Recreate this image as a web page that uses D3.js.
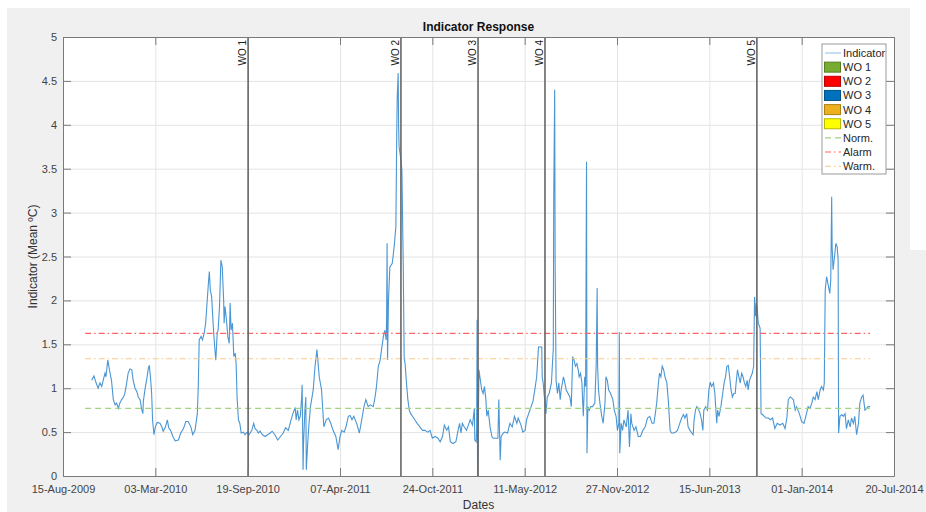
<!DOCTYPE html>
<meta charset="utf-8">
<title>Indicator Response</title>
<script src="https://d3js.org/d3.v7.min.js"></script>
<style>
  body { margin: 0; background: #fff; font-family: Arial, "Liberation Sans", Helvetica, sans-serif; }
  .grid line { stroke: #e4e4e4; }
  .grid path { display: none; }
  .axis path, .axis line { stroke: #7a7a7a; }
  .axis text { fill: #444; font-size: 11px; font-family: Arial, "Liberation Sans", sans-serif; }
</style>
<div id="chart"></div>
<script>
// x tick labels (every 200 days), also the date range of the axis
var xTickLabels = ["15-Aug-2009", "03-Mar-2010", "19-Sep-2010", "07-Apr-2011", "24-Oct-2011",
                   "11-May-2012", "27-Nov-2012", "15-Jun-2013", "01-Jan-2014", "20-Jul-2014"];
var yTicks = [0, 0.5, 1, 1.5, 2, 2.5, 3, 3.5, 4, 4.5, 5];

// indicator series: days after 15-Aug-2009 and mean value (ºC)
var days = [62,67,71,76,80,84,87,91,93,97,102,105,109,113,116,120,123,127,131,134,138,141,145,149,152,156,160,163,167,170,173,174,178,181,185,187,190,192,194,197,200,204,210,214,217,222,226,229,233,238,243,250,255,261,266,271,277,281,286,291,293,295,
  299,302,306,309,312,315,317,319,322,326,329,331,334,336,339,342,345,348,349,351,354,357,360,362,364,367,370,373,375,377,380,383,386,391,394,399,403,409,413,416,420,423,427,432,438,443,449,453,459,465,471,477,482,488,494,498,503,505,508,511,514,517,518,520,521,524,526,527,530,533,536,
  542,546,550,552,555,560,565,570,575,580,585,591,596,600,604,609,613,618,622,626,630,636,642,647,652,656,661,666,672,676,679,683,687,690,694,697,700,701,702,703,705,708,713,715,718,721,723,724,726,727,728,731,734,737,739,741,744,747,750,753,757,762,767,773,779,784,790,795,800,806,812,817,822,826,831,835,839,845,851,855,859,862,865,869,874,878,882,887,891,892,895,896,897,898,
  901,903,907,910,913,916,918,921,925,929,932,937,942,944,947,949,954,957,963,968,973,978,983,986,992,996,1001,1004,1008,1014,1018,1022,1026,1028,1030,1033,1037,1038,1040,1042,1044,1046,1049,1053,1058,1061,1062,1063,1065,1066,1068,1071,1074,1077,1079,1084,1087,1090,1094,1098,1101,1104,1107,1110,1113,1116,1118,1121,1124,1127,1130,1132,1134,1135,1137,1140,1143,1147,1152,1155,1157,1158,1160,1163,1167,1170,1174,1176,1179,1182,1186,1191,1194,1198,1201,1204,1205,1206,1209,1212,1215,1220,1224,1227,1230,1232,1237,1241,1246,1251,1256,1261,1266,1271,1276,1280,
  1283,1286,1289,1292,1295,1298,1301,1304,1308,1311,1315,1318,1323,1327,1331,1336,1340,1344,1347,1351,1354,1358,1362,1365,1367,1370,1373,1376,1380,1383,1386,1388,1392,1396,1399,1402,1405,1409,1412,1416,1418,1421,1425,1430,1432,1435,1438,1441,1444,1447,1450,1453,1456,1458,1461,1464,1467,1470,1473,1476,1479,1482,1484,1487,1490,1493,1496,1498,1500,1502,1504,1506,1509,1510,
  1512,1515,1519,1523,1528,1532,1537,1542,1547,1553,1559,1564,1568,1571,1575,1578,1582,1586,1589,1595,1600,1605,1609,1614,1618,1622,1625,1629,1633,1636,1640,1643,1647,1649,1651,1654,1658,1661,1663,1665,1666,1668,1672,1674,1677,1679,1680,1683,1687,1690,1694,1697,1701,1705,1708,1712,1715,1719,1723,1726,1730,1733,1737,1741,1744,1748];
var values = [1.09,1.14,1.07,1.00,1.06,1.02,1.09,1.17,1.13,1.32,1.17,1.09,0.87,0.81,0.83,0.77,0.83,0.87,0.90,0.94,1.06,1.17,1.22,1.21,1.09,1.00,0.96,0.90,0.87,0.77,0.71,0.85,1.00,1.09,1.23,1.26,1.09,0.94,0.64,0.47,0.56,0.61,0.60,0.56,0.51,0.56,0.64,0.55,0.52,0.45,0.40,0.41,0.49,0.54,0.62,0.62,0.56,0.47,0.52,0.71,1.02,1.55,
  1.59,1.55,1.63,1.74,1.97,2.20,2.33,2.12,2.04,1.66,1.44,1.32,1.63,1.66,1.93,2.46,2.38,2.00,1.74,1.93,1.78,1.59,1.51,1.97,1.66,1.74,1.36,1.40,1.28,0.90,0.64,0.60,0.49,0.50,0.47,0.50,0.47,0.52,0.60,0.54,0.52,0.49,0.51,0.47,0.45,0.47,0.49,0.51,0.47,0.41,0.45,0.49,0.55,0.52,0.64,0.71,0.78,0.64,0.75,0.64,0.68,0.90,1.04,0.07,0.37,0.75,0.90,0.07,0.37,0.60,0.79,
  0.98,1.25,1.44,1.32,1.13,0.98,0.56,0.64,0.66,0.60,0.52,0.45,0.30,0.45,0.52,0.50,0.56,0.68,0.69,0.64,0.68,0.60,0.49,0.64,0.79,0.87,0.79,0.81,0.79,0.90,1.02,1.25,1.32,1.44,1.59,1.66,1.55,1.81,2.65,1.32,2.00,2.38,2.42,2.50,2.65,2.84,3.94,4.32,4.59,3.98,3.75,3.64,3.49,2.40,1.34,1.28,1.06,0.87,0.75,0.71,0.68,0.64,0.60,0.56,0.52,0.52,0.50,0.52,0.43,0.45,0.43,0.39,0.45,0.58,0.52,0.56,0.39,0.37,0.39,0.50,0.60,0.49,0.60,0.56,0.52,0.58,0.64,0.58,0.77,0.41,0.39,0.55,1.78,0.00,
  1.21,1.13,0.98,0.94,1.02,0.87,0.68,0.75,0.56,0.45,0.43,0.43,0.43,0.87,0.18,0.45,0.49,0.50,0.49,0.60,0.56,0.68,0.60,0.66,0.58,0.50,0.52,0.64,0.70,0.79,0.85,0.98,1.13,1.30,1.47,1.47,1.47,1.13,1.06,0.94,0.83,0.71,0.90,0.94,1.06,1.36,1.44,3.18,4.40,2.42,1.09,0.94,1.06,0.87,0.98,1.13,1.06,0.98,0.94,0.90,0.79,1.36,1.32,1.25,1.28,1.21,1.13,1.17,1.06,0.68,1.13,1.02,3.58,0.26,0.79,0.75,0.79,0.79,0.83,1.28,2.14,1.25,0.98,0.83,0.68,0.60,0.83,1.13,1.09,0.98,0.94,0.87,0.75,0.68,0.52,0.60,1.64,0.26,0.60,0.52,0.64,0.56,0.75,0.33,0.71,0.60,0.52,0.56,0.45,0.45,0.52,0.56,0.66,0.68,0.60,0.60,
  0.71,0.83,1.02,1.17,1.13,1.25,1.21,1.13,1.06,0.87,0.52,0.49,0.49,0.50,0.52,0.60,0.66,0.70,0.66,0.71,0.56,0.52,0.49,0.47,0.64,0.75,0.79,0.77,0.71,0.64,0.52,0.75,0.79,0.75,0.98,1.07,1.02,1.06,0.94,0.60,0.75,0.68,0.79,0.98,1.06,1.13,1.25,1.26,1.13,0.98,0.90,0.94,0.94,1.06,1.21,1.13,1.06,1.17,1.13,1.06,1.02,1.09,0.98,1.09,1.13,1.17,1.25,2.04,1.82,1.97,1.89,1.74,1.70,1.68,
  0.71,0.70,0.68,0.66,0.66,0.64,0.66,0.54,0.60,0.58,0.60,0.54,0.66,0.87,0.90,0.89,0.87,0.75,0.79,0.71,0.62,0.60,0.68,0.79,0.77,0.83,0.90,0.87,0.96,0.87,0.98,1.02,0.98,1.06,2.12,2.27,2.16,2.08,2.23,3.18,2.61,2.35,2.54,2.65,2.61,2.46,0.49,0.68,0.70,0.68,0.71,0.54,0.64,0.56,0.66,0.60,0.68,0.47,0.60,0.83,0.90,0.92,0.75,0.77,0.79,0.79];

// work orders: day after 15-Aug-2009
var woLabels = ["WO 1", "WO 2", "WO 3", "WO 4", "WO 5"];
var woDays = [401, 732, 899, 1044, 1503];
var woColors = ["#77ac30", "#ff0000", "#0072bd", "#edb120", "#ffff00"];

// thresholds
var thrLabels = ["Norm.", "Alarm", "Warm."];
var thrValues = [0.77, 1.625, 1.335];
var thrColors = ["#a3d283", "#ff6464", "#f7c98a"];
var thrDash = ["6,4", "6,3,1.5,3", "6,3,1.5,3"];
var thrStartDay = 48, thrEndDay = 1748;

var W = 926, H = 512;
var margin = {top: 37, right: 32, bottom: 36, left: 63};
var width = 894 - margin.left, height = 476 - margin.top;

var parse = d3.timeParse("%d-%b-%Y");
var xTicks = xTickLabels.map(parse);
var start = xTicks[0];
function dayToDate(d) { return d3.timeDay.offset(start, d); }

var svg = d3.select("#chart").append("svg")
  .attr("width", W).attr("height", H);

// grey figure background
svg.append("rect").attr("x", 7).attr("y", 8).attr("width", 903).attr("height", H - 8).attr("fill", "#f0f0f0");
svg.append("rect").attr("x", 910).attr("y", 250).attr("width", 16).attr("height", H - 250).attr("fill", "#f0f0f0");

var g = svg.append("g").attr("transform", "translate(" + margin.left + "," + margin.top + ")");

var x = d3.scaleTime().domain([xTicks[0], xTicks[xTicks.length - 1]]).range([0, width]);
var y = d3.scaleLinear().domain([0, 5]).range([height, 0]);

g.append("rect").attr("width", width).attr("height", height).attr("fill", "#fff");

// gridlines
g.append("g").attr("class", "grid")
  .attr("transform", "translate(0," + height + ")")
  .call(d3.axisBottom(x).tickValues(xTicks).tickSize(-height).tickFormat(""));
g.append("g").attr("class", "grid")
  .call(d3.axisLeft(y).tickValues(yTicks).tickSize(-width).tickFormat(""));

// indicator line
var series = days.map(function(d, i) { return {date: dayToDate(d), v: values[i]}; });
g.append("path")
  .datum(series)
  .attr("fill", "none")
  .attr("stroke", "#2a84cc")
  .attr("stroke-width", 1.1)
  .attr("stroke-opacity", 0.85)
  .attr("d", d3.line().x(function(d) { return x(d.date); }).y(function(d) { return y(d.v); }));

// threshold lines
thrValues.forEach(function(v, i) {
  g.append("line")
    .attr("x1", x(dayToDate(thrStartDay))).attr("x2", x(dayToDate(thrEndDay)))
    .attr("y1", y(v)).attr("y2", y(v))
    .attr("stroke", thrColors[i]).attr("stroke-width", 1.1)
    .attr("stroke-dasharray", thrDash[i]);
});

// work order lines + labels
woDays.forEach(function(d, i) {
  var xx = x(dayToDate(d));
  g.append("line")
    .attr("x1", xx).attr("x2", xx).attr("y1", 0).attr("y2", height)
    .attr("stroke", "#666").attr("stroke-width", 1.6);
  g.append("text")
    .attr("transform", "translate(" + (xx - 2) + ",3) rotate(-90)")
    .attr("text-anchor", "end")
    .style("font-size", "10px")
    .style("fill", "#222")
    .text(woLabels[i]);
});

// axes (ticks inside, box on)
var fmt = d3.timeFormat("%d-%b-%Y");
g.append("g").attr("class", "axis")
  .attr("transform", "translate(0," + height + ")")
  .call(d3.axisBottom(x).tickValues(xTicks).tickFormat(fmt).tickSizeInner(-8).tickSizeOuter(0).tickPadding(9));
g.append("g").attr("class", "axis")
  .call(d3.axisTop(x).tickValues(xTicks).tickFormat("").tickSizeInner(-8).tickSizeOuter(0));
g.append("g").attr("class", "axis")
  .call(d3.axisLeft(y).tickValues(yTicks).tickFormat(function(d) { return String(d); }).tickSizeInner(-8).tickSizeOuter(0).tickPadding(6));
g.append("g").attr("class", "axis")
  .attr("transform", "translate(" + width + ",0)")
  .call(d3.axisRight(y).tickValues(yTicks).tickFormat("").tickSizeInner(-8).tickSizeOuter(0));

// titles
svg.append("text")
  .attr("x", margin.left + width / 2).attr("y", 31)
  .attr("text-anchor", "middle")
  .style("font-size", "12px").style("font-weight", "bold").style("fill", "#111")
  .text("Indicator Response");
svg.append("text")
  .attr("x", margin.left + width / 2).attr("y", 509)
  .attr("text-anchor", "middle")
  .style("font-size", "12px").style("fill", "#333")
  .text("Dates");
svg.append("text")
  .attr("transform", "translate(37," + (margin.top + height / 2) + ") rotate(-90)")
  .attr("text-anchor", "middle")
  .style("font-size", "12px").style("fill", "#333")
  .text("Indicator (Mean ºC)");

// legend
var lg = svg.append("g").attr("transform", "translate(822,44)");
lg.append("rect").attr("width", 64).attr("height", 130)
  .attr("fill", "#fff").attr("stroke", "#9a9a9a").attr("stroke-width", 1);
var rowH = 14.15, row0 = 9;
function legendText(i, label) {
  lg.append("text").attr("x", 21).attr("y", row0 + i * rowH + 4)
    .style("font-size", "11px").style("fill", "#262626").text(label);
}
lg.append("line").attr("x1", 3).attr("x2", 19).attr("y1", row0).attr("y2", row0)
  .attr("stroke", "#a8cdea").attr("stroke-width", 1.3);
legendText(0, "Indicator");
woLabels.forEach(function(l, i) {
  var cy = row0 + (i + 1) * rowH;
  lg.append("rect").attr("x", 2.5).attr("y", cy - 5).attr("width", 16).attr("height", 10)
    .attr("fill", woColors[i]).attr("stroke", d3.color(woColors[i]).darker(0.9)).attr("stroke-width", 1);
  legendText(i + 1, l);
});
thrLabels.forEach(function(l, i) {
  var cy = row0 + (i + 6) * rowH;
  lg.append("line").attr("x1", 3).attr("x2", 19).attr("y1", cy).attr("y2", cy)
    .attr("stroke", thrColors[i]).attr("stroke-width", 1.1).attr("stroke-dasharray", thrDash[i]);
  legendText(i + 6, l);
});
</script>
